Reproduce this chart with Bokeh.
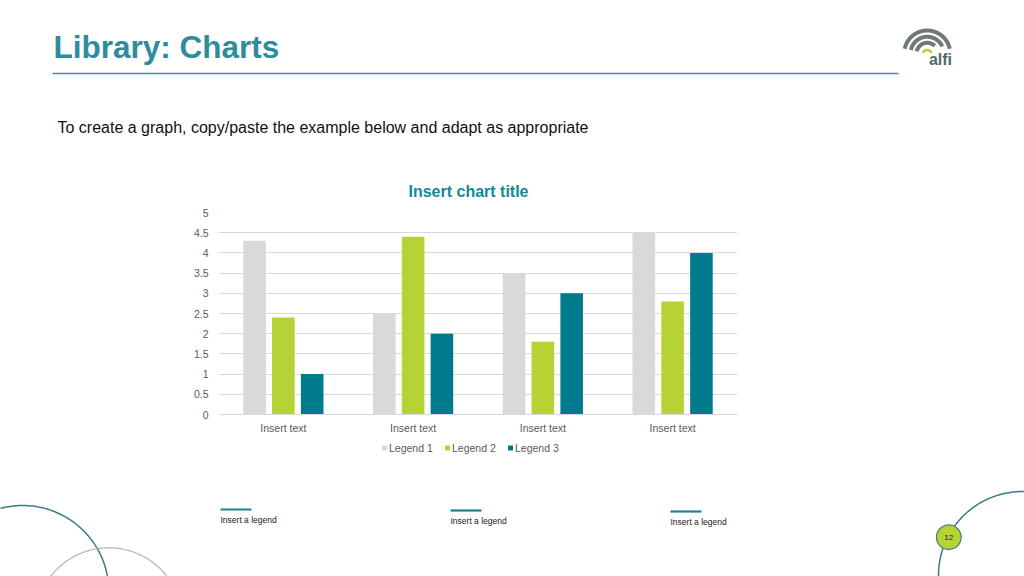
import numpy as np
from bokeh.plotting import figure
from bokeh.layouts import column, row
from bokeh.models import Range1d, FixedTicker, NumeralTickFormatter
from bokeh.core.properties import value
from bokeh.embed import file_html
from bokeh.resources import INLINE

# ---------------- data ----------------
categories = ["Insert text", "Insert text", "Insert text", "Insert text"]
series_names = ["Legend 1", "Legend 2", "Legend 3"]
legend1 = [4.3, 2.5, 3.5, 4.5]
legend2 = [2.4, 4.4, 1.8, 2.8]
legend3 = [1.0, 2.0, 3.0, 4.0]
y_ticks = [0, 0.5, 1, 1.5, 2, 2.5, 3, 3.5, 4, 4.5, 5]
series_colors = ["#D9D9D9", "#B5D334", "#007B8E"]
footer_labels = ["Insert a legend", "Insert a legend", "Insert a legend"]
slide_title = "Library: Charts"
subtitle = "To create a graph, copy/paste the example below and adapt as appropriate"
chart_title = "Insert chart title"
page_number = "12"

FONT = value("Liberation Sans")
TEAL = "#2E8C9D"
W = 1024


def slide_fig(y0, y1):
    p = figure(width=W, height=y1 - y0, x_range=Range1d(0, W), y_range=Range1d(y1, y0),
               output_backend="svg", toolbar_location=None, min_border=0,
               x_axis_location=None, y_axis_location=None)
    p.grid.visible = False
    p.outline_line_color = None
    return p


def arc_pts(cx, cy, r, a0, a1, n=200):
    t = np.radians(np.linspace(a0, a1, n))
    return cx + r * np.cos(t), cy - r * np.sin(t)


# ---------------- top (header) ----------------
top = slide_fig(0, 204)
top.text(x=[53], y=[46.5], text=[slide_title], text_font=FONT, text_font_size="31.5px",
         text_font_style="bold", text_color=TEAL, text_baseline="middle")
top.line(x=[52, 898], y=[73, 73], line_color="#3F93A3", line_width=1.5)
top.text(x=[57], y=[126.5], text=[subtitle], text_font=FONT, text_font_size="16px",
         text_color="#111111", text_baseline="middle")
top.text(x=[468], y=[190.5], text=[chart_title], text_font=FONT, text_font_size="16px",
         text_font_style="bold", text_color="#138896", text_align="center",
         text_baseline="middle")

# logo
lcx, lcy = 926.7, 53
for r, a0 in [(23, 12), (16.7, 25), (10.7, 45)]:
    xs, ys = arc_pts(lcx, lcy, r, a0, 168)
    top.line(xs, ys, line_color="#6E7A79", line_width=4)
xs, ys = arc_pts(lcx, lcy + 1, 4.5, 20, 160)
top.line(xs, ys, line_color="#B5D334", line_width=2.5)
top.text(x=[940], y=[58.5], text=["alfi"], text_font=FONT,
         text_font_size="16px", text_font_style="bold", text_color="#4F6A6B",
         text_align="center", text_baseline="middle")

# ---------------- chart ----------------
chart = figure(width=W, height=236, x_range=Range1d(0.5, 4.5), y_range=Range1d(0, 5),
               output_backend="svg", toolbar_location=None,
               min_border_left=218, min_border_right=287, min_border_top=8,
               min_border_bottom=26)
chart.outline_line_color = None
xpos = np.arange(1, len(categories) + 1)
offsets = [-0.222, 0.0, 0.222]
for vals, off, col in zip([legend1, legend2, legend3], offsets, series_colors):
    chart.vbar(x=xpos + off, top=vals, width=0.174, fill_color=col, line_color=None)

chart.xgrid.visible = False
chart.ygrid.grid_line_color = "#D9D9D9"
chart.ygrid.ticker = FixedTicker(ticks=y_ticks)

chart.yaxis.ticker = FixedTicker(ticks=y_ticks)
chart.yaxis.formatter = NumeralTickFormatter(format="0.[0]")
chart.yaxis.axis_line_color = None
chart.yaxis.major_tick_line_color = None
chart.yaxis.minor_tick_line_color = None
chart.yaxis.major_label_standoff = 4
chart.yaxis.major_label_text_font = "Liberation Sans"
chart.yaxis.major_label_text_font_size = "10.5px"
chart.yaxis.major_label_text_color = "#595959"

chart.xaxis.ticker = FixedTicker(ticks=list(xpos))
chart.xaxis.major_label_overrides = {int(i): c for i, c in zip(xpos, categories)}
chart.xaxis.axis_line_color = "#D9D9D9"
chart.xaxis.axis_line_width = 1
chart.xaxis.major_tick_line_color = None
chart.xaxis.minor_tick_line_color = None
chart.xaxis.major_label_standoff = 1
chart.xaxis.major_label_text_font = "Liberation Sans"
chart.xaxis.major_label_text_font_size = "10.5px"
chart.xaxis.major_label_text_color = "#595959"

# ---------------- bottom ----------------
bot = slide_fig(440, 576)

# decorative arcs
xs, ys = arc_pts(22, 591.4, 86.4, -30, 200)
bot.line(xs, ys, line_color="#3B7C84", line_width=1.5)
xs, ys = arc_pts(108.3, 620.9, 73.6, 0, 180)
bot.line(xs, ys, line_color="#B4B4B4", line_width=1.2)
xs, ys = arc_pts(1022, 575, 84, 0, 200)
bot.line(xs, ys, line_color="#3B7C84", line_width=1.5)

# chart legend
leg_x0, leg_step, leg_y = 384, 63, 447.5
for i, (name, col) in enumerate(zip(series_names, series_colors)):
    x = leg_x0 + i * leg_step
    bot.rect(x=[x], y=[leg_y], width=5, height=5, fill_color=col, line_color=None)
    bot.text(x=[x + 4.5], y=[leg_y], text=[name], text_font=FONT, text_font_size="10.5px",
             text_color="#595959", text_baseline="middle")

# footer legends
foot_pos = [(220, 509), (450, 510), (670, 511)]
for (fx, fy), lab in zip(foot_pos, footer_labels):
    bot.line(x=[fx, fx + 31], y=[fy, fy], line_color="#1F7F8E", line_width=2.2)
    bot.text(x=[fx], y=[fy + 10.5], text=[lab], text_font=FONT, text_font_size="8.5px",
             text_color="#1A1A1A", text_baseline="middle")

# page number badge
bot.circle(x=[948.3], y=[536.7], radius=12.3, fill_color="#B5D334", line_color="#4A8088",
           line_width=1.3)
bot.text(x=[948.3], y=[537], text=[page_number], text_font=FONT, text_font_size="8px",
         text_color="#222222", text_align="center", text_baseline="middle")

layout = column(top, row(chart), bot, spacing=0)
open("out.html", "w").write(file_html(layout, INLINE))
